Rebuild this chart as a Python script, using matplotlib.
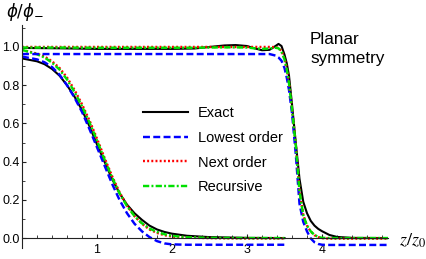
import matplotlib
matplotlib.use('Agg')
import matplotlib.pyplot as plt
from matplotlib.ticker import MultipleLocator, FormatStrFormatter

plt.rcParams['font.family'] = ['Liberation Sans', 'DejaVu Sans']
plt.rcParams['lines.scale_dashes'] = False

# lower family of curves (decaying profile)
x_low = [0, 0.2, 0.3, 0.4, 0.5, 0.6, 0.7, 0.8, 0.9, 1.0, 1.1, 1.2, 1.3, 1.4, 1.5, 1.6,
         1.7, 1.8, 1.9, 2.0, 2.2, 2.5, 3.0, 3.5]
exact_low = [0.94, 0.925, 0.91, 0.885, 0.85, 0.80, 0.74, 0.67, 0.585, 0.49, 0.40, 0.31,
             0.235, 0.175, 0.13, 0.095, 0.065, 0.045, 0.032, 0.023, 0.012, 0.005, 0.001, 0.0]
lowest_low = [0.95, 0.935, 0.92, 0.895, 0.855, 0.80, 0.735, 0.66, 0.57, 0.475, 0.38, 0.285,
              0.2, 0.13, 0.075, 0.035, 0.005, -0.016, -0.028, -0.033, -0.035, -0.035, -0.035, -0.035]
next_low = [0.985, 0.965, 0.95, 0.925, 0.89, 0.84, 0.775, 0.70, 0.615, 0.52, 0.42, 0.325,
            0.24, 0.17, 0.115, 0.075, 0.045, 0.027, 0.015, 0.008, 0.002, 0.0, -0.002, -0.002]
recursive_low = [0.985, 0.962, 0.945, 0.918, 0.882, 0.83, 0.765, 0.69, 0.605, 0.51, 0.412, 0.318,
                 0.235, 0.167, 0.115, 0.077, 0.05, 0.032, 0.02, 0.012, 0.004, 0.001, 0.0, 0.0]

# upper family of curves (step profile)
x_step = [0, 0.5, 1.0, 1.5, 2.0, 2.3, 2.5, 2.7, 2.85, 3.0, 3.1, 3.2, 3.3, 3.38, 3.42, 3.46,
          3.5, 3.53, 3.56, 3.6, 3.65, 3.7, 3.75, 3.8, 3.85, 3.9, 3.95, 4.0, 4.1, 4.2, 4.4, 4.88]
exact_step = [0.995, 0.993, 0.99, 0.99, 0.99, 0.992, 1.0, 1.008, 1.01, 1.005, 0.993, 0.983,
              0.985, 1.005, 1.016, 1.005, 0.96, 0.915, 0.85, 0.70, 0.50, 0.31, 0.19, 0.13,
              0.09, 0.065, 0.048, 0.036, 0.016, 0.006, 0.001, 0.0]
lowest_step = [0.963] * 13 + [0.955, 0.945, 0.928, 0.89, 0.84, 0.775, 0.655, 0.44, 0.18, 0.085,
                              0.035, -0.002, -0.022, -0.031, -0.035, -0.036, -0.036, -0.036, -0.036]
next_step = [1.0] * 13 + [0.999, 0.995, 0.98, 0.94, 0.89, 0.815, 0.68, 0.49, 0.25, 0.12,
                          0.065, 0.035, 0.015, 0.005, 0.0, -0.003, -0.003, -0.003, -0.003]
recursive_step = [0.997, 0.997, 0.996, 0.996, 0.996, 0.996, 0.997, 0.998, 0.998, 0.997, 0.993,
                  0.99, 0.992, 0.996, 0.993, 0.975, 0.935, 0.885, 0.81, 0.675, 0.485, 0.245,
                  0.12, 0.065, 0.035, 0.016, 0.006, 0.001, 0.0, 0.0, 0.0, 0.0]

labels = ['Exact', 'Lowest order', 'Next order', 'Recursive']

W, H = 427, 259
fig = plt.figure(figsize=(W / 100, H / 100), dpi=100)
ax = fig.add_axes([22 / W, (H - 248) / H, 366 / W, 223 / H])
ax.set_xlim(0, 4.88)
ax.set_ylim(-0.052, 1.115)

exact_kw = dict(color='black', lw=1.5)
lowest_kw = dict(color='#0000ff', lw=1.75, dashes=(5, 2.4))
next_kw = dict(color='#ff0000', lw=1.75, dashes=(1.4, 1.6))
rec_kw = dict(color='#00e000', lw=1.75, dashes=(4.5, 1.6, 1.4, 1.6))

ax.plot(x_low, exact_low, **exact_kw, label=labels[0])
ax.plot(x_low, lowest_low, **lowest_kw, label=labels[1])
ax.plot(x_low, next_low, **next_kw, label=labels[2])
ax.plot(x_low, recursive_low, **rec_kw, label=labels[3])
ax.plot(x_step, exact_step, **exact_kw)
ax.plot(x_step, lowest_step, **lowest_kw)
ax.plot(x_step, next_step, **next_kw)
ax.plot(x_step, recursive_step, **rec_kw)

for s in ['top', 'right']:
    ax.spines[s].set_visible(False)
ax.spines['bottom'].set_position(('data', 0))
for s in ['left', 'bottom']:
    ax.spines[s].set_linewidth(0.8)
    ax.spines[s].set_color('#222222')

ax.xaxis.set_major_locator(MultipleLocator(1))
ax.xaxis.set_minor_locator(MultipleLocator(0.2))
ax.yaxis.set_major_locator(MultipleLocator(0.2))
ax.yaxis.set_minor_locator(MultipleLocator(0.1))
ax.yaxis.set_major_formatter(FormatStrFormatter('%.1f'))
ax.set_xticks([1, 2, 3, 4])
ax.tick_params(which='both', direction='in', color='#222222', labelsize=9)
ax.tick_params(which='major', length=3.2, width=0.8)
ax.tick_params(which='minor', length=2, width=0.6)
ax.tick_params(axis='x', pad=4.5)
ax.tick_params(axis='y', pad=1.5)

fig.legend(loc='upper left', bbox_to_anchor=(143 / W, 1 - 106 / H), frameon=False,
           fontsize=10.5, handlelength=3.1, handletextpad=0.68, labelspacing=0.74,
           borderpad=0, borderaxespad=0)

fig.text(310 / W, 1 - 49 / H, 'Planar\nsymmetry', fontsize=12.3, ha='left', va='center',
         linespacing=1.4)
fig.text(25 / W, 1 - 12 / H, r'$\phi/\phi_{-}$', fontsize=12, ha='center', va='center',
         math_fontfamily='dejavusans')
fig.text(412 / W, 1 - 241 / H, r'$z/z_0$', fontsize=13, ha='center', va='center',
         math_fontfamily='stix')

fig.savefig('out.png', dpi=100)
